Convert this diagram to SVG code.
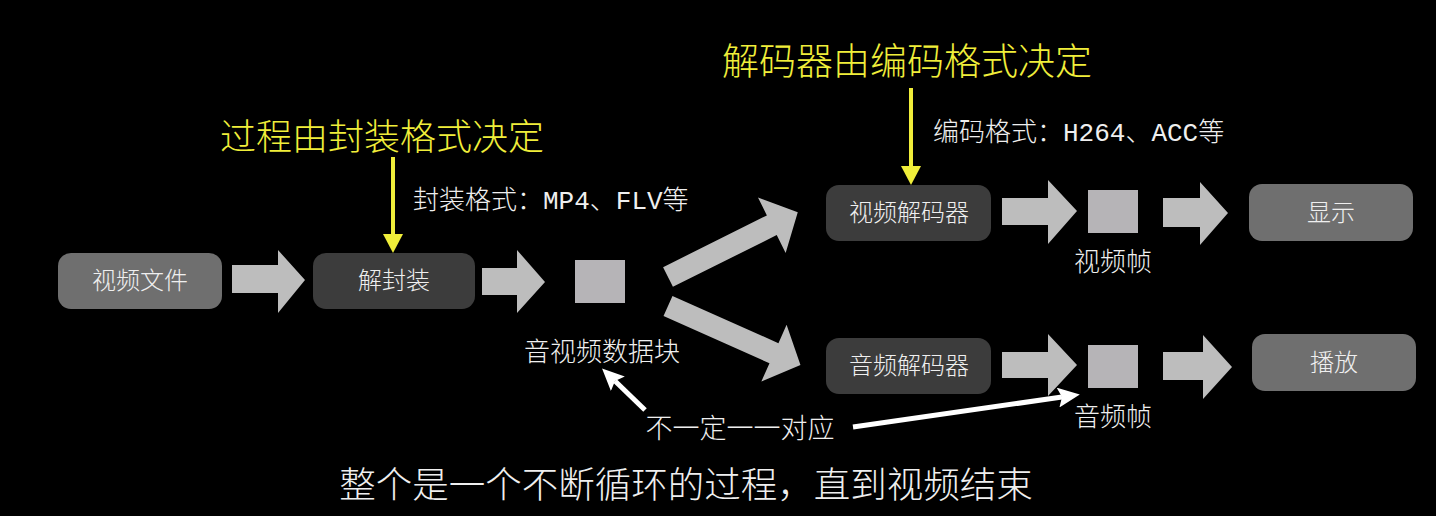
<svg xmlns="http://www.w3.org/2000/svg" width="1436" height="516" viewBox="0 0 1436 516">
<style>
.bg{fill:#000}
.lt{fill:#6f6f6f}
.dk{fill:#3c3c3c}
.blk{fill:#bdbdbd}
.sq{fill:#b6b4b7}
.t{font-family:"Noto Sans CJK SC","Liberation Sans",sans-serif;font-weight:300;fill:#efefef;text-anchor:middle}
.node{font-size:24px}
.lbl{font-size:26px}
.fmt{font-family:"Liberation Mono","Noto Sans CJK SC",monospace;font-weight:300;font-size:26px;fill:#efefef}
.yt{font-family:"Noto Sans CJK SC",sans-serif;font-weight:300;fill:#f0ee3a}
.yl{stroke:#f0ee3a;stroke-width:4;fill:none}
.yh{fill:#f0ee3a}
.wl{stroke:#fff;stroke-width:5;fill:none;marker-end:url(#wh)}
</style>
<defs>
<marker id="wh" markerUnits="userSpaceOnUse" viewBox="0 0 22 20" markerWidth="22" markerHeight="20" refX="4" refY="10" orient="auto">
<path d="M0,0 L22,10 L0,20 L4,10 Z" fill="#fff"/>
</marker>
</defs>
<rect class="bg" x="0" y="0" width="1436" height="516"/>

<g id="connectors">
<polygon class="blk" points="232,265 278,265 278,250 305,280 278,313 278,293 232,293"/>
<polygon class="blk" points="482,268 517,268 517,250 545,282 517,313 517,295 482,295"/>
<path class="blk" d="M0,-11 L116,-11 L116,-31 L145,0 L116,31 L116,11 L0,11 Z" transform="translate(668,277) rotate(-26.5)"/>
<path class="blk" d="M0,-11 L116,-11 L116,-31 L145,0 L116,31 L116,11 L0,11 Z" transform="translate(668,306) rotate(24)"/>
<polygon class="blk" points="1002,198 1048,198 1048,180 1077,211 1048,244 1048,225 1002,225"/>
<polygon class="blk" points="1163,198 1200,198 1200,182 1228,213 1200,245 1200,227 1163,227"/>
<polygon class="blk" points="1002,352 1048,352 1048,334 1077,365 1048,396 1048,378 1002,378"/>
<polygon class="blk" points="1163,352 1203,352 1203,335 1232,367 1203,399 1203,380 1163,380"/>
<line class="yl" x1="393" y1="157" x2="393" y2="236"/>
<polygon class="yh" points="383,234 403,234 393,253"/>
<line class="yl" x1="911" y1="88" x2="911" y2="168"/>
<polygon class="yh" points="901,166 921,166 911,185"/>
<line class="wl" x1="645" y1="410" x2="615" y2="381"/>
<line class="wl" x1="853" y1="427" x2="1062" y2="397"/>
</g>

<g id="n-file"><rect class="lt" x="58" y="253" width="164" height="56" rx="13"/><text class="t node" x="140" y="289">视频文件</text></g>
<g id="n-demux"><rect class="dk" x="313" y="253" width="162" height="56" rx="13"/><text class="t node" x="394" y="289">解封装</text></g>
<g id="n-packet"><rect class="sq" x="575" y="260" width="50" height="43"/><text class="t lbl" x="602" y="361">音视频数据块</text></g>
<g id="n-vdec"><rect class="dk" x="826" y="185" width="165" height="56" rx="13"/><text class="t node" x="909" y="221">视频解码器</text></g>
<g id="n-adec"><rect class="dk" x="826" y="338" width="165" height="56" rx="13"/><text class="t node" x="909" y="374">音频解码器</text></g>
<g id="n-vframe"><rect class="sq" x="1088" y="190" width="50" height="43"/><text class="t lbl" x="1113" y="271">视频帧</text></g>
<g id="n-aframe"><rect class="sq" x="1088" y="345" width="50" height="43"/><text class="t lbl" x="1113" y="426">音频帧</text></g>
<g id="n-display"><rect class="lt" x="1249" y="184" width="164" height="57" rx="13"/><text class="t node" x="1331" y="221">显示</text></g>
<g id="n-play"><rect class="lt" x="1252" y="334" width="164" height="57" rx="13"/><text class="t node" x="1334" y="371">播放</text></g>

<g id="labels">
<text class="yt" x="220" y="150" font-size="36">过程由封装格式决定</text>
<text class="yt" x="722" y="75" font-size="37">解码器由编码格式决定</text>
<text class="fmt" x="413" y="209">封装格式：MP4、FLV等</text>
<text class="fmt" x="933" y="141">编码格式：H264、ACC等</text>
<text class="t" x="740" y="438" font-size="27">不一定一一对应</text>
<text class="t" x="686" y="498" font-size="36.5">整个是一个不断循环的过程，直到视频结束</text>
</g>
</svg>
